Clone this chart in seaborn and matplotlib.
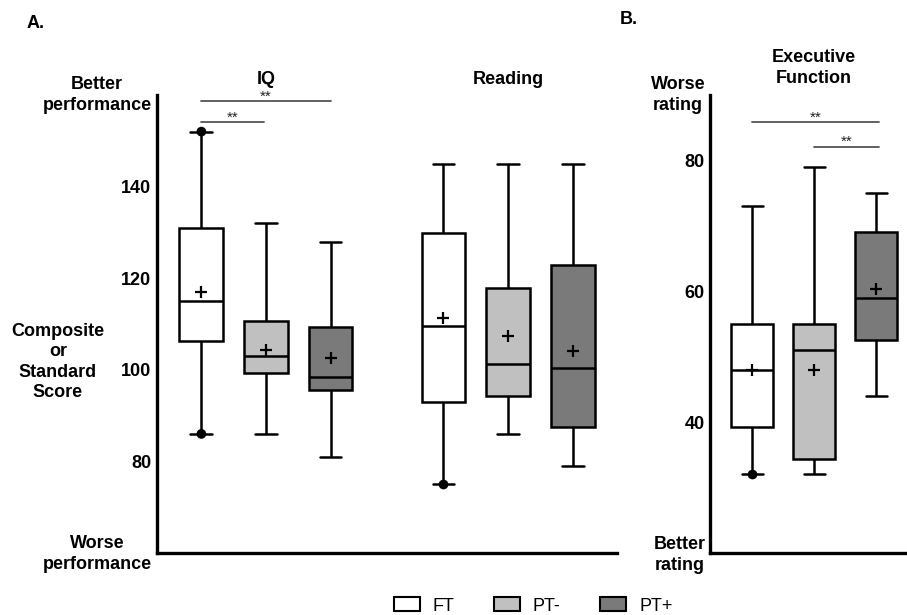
import numpy as np
import pandas as pd
import matplotlib

matplotlib.use("Agg")
import matplotlib.pyplot as plt
import seaborn as sns
from matplotlib.patches import Patch

# --- data ---
groups = ["FT", "PT-", "PT+"]
colors = ["#ffffff", "#c0c0c0", "#7a7a7a"]
tests_a = ["IQ", "Reading"]

# five-number summaries: min, q1, median, q3, max
iq_ft = [86, 106.3, 115, 131, 152]
iq_ptm = [86, 99.2, 103, 110.7, 132]
iq_ptp = [81, 95.5, 98.5, 109.4, 128]
read_ft = [75, 92.9, 109.6, 129.8, 145]
read_ptm = [86, 94.2, 101.2, 117.8, 145]
read_ptp = [79, 87.5, 100.5, 122.8, 145]
ef_ft = [32, 39.3, 48, 55, 73]
ef_ptm = [32, 34.3, 51, 55, 79]
ef_ptp = [44, 52.5, 59, 69, 75]

# group means (the "+" markers)
iq_mean = [117, 104.3, 102.6]
read_mean = [111.4, 107.4, 104.2]
ef_mean = [48, 48, 60.3]

# single points drawn at the FT whisker ends
iq_ft_dots = [152, 86]
read_ft_dots = [75]
ef_ft_dots = [32]

# --- build long tables ---
rows = []
for test, lists in zip(tests_a, [[iq_ft, iq_ptm, iq_ptp], [read_ft, read_ptm, read_ptp]]):
    for g, vals in zip(groups, lists):
        for v in vals:
            rows.append({"test": test, "group": g, "score": v})
df_a = pd.DataFrame(rows)

rows = []
for g, vals in zip(groups, [ef_ft, ef_ptm, ef_ptp]):
    for v in vals:
        rows.append({"test": "EF", "group": g, "score": v})
df_b = pd.DataFrame(rows)

mean_a = pd.DataFrame(
    {"test": np.repeat(tests_a, 3), "group": groups * 2, "score": iq_mean + read_mean}
)
mean_b = pd.DataFrame({"test": ["EF"] * 3, "group": groups, "score": ef_mean})

dots_a = pd.DataFrame(
    {
        "test": ["IQ"] * len(iq_ft_dots) + ["Reading"] * len(read_ft_dots),
        "group": ["FT"] * (len(iq_ft_dots) + len(read_ft_dots)),
        "score": iq_ft_dots + read_ft_dots,
    }
)
dots_b = pd.DataFrame({"test": ["EF"] * len(ef_ft_dots), "group": ["FT"], "score": ef_ft_dots})

# --- style ---
sns.set_style("white")
plt.rcParams["font.family"] = ["Liberation Sans", "DejaVu Sans"]
plt.rcParams["text.color"] = "black"
plt.rcParams["ytick.color"] = "black"
plt.rcParams["xtick.color"] = "black"
plt.rcParams["axes.labelcolor"] = "black"

W, H = 907, 615
fig = plt.figure(figsize=(W / 100, H / 100), dpi=100)


def px_rect(x0, y0, x1, y1):
    return [x0 / W, 1 - y1 / H, (x1 - x0) / W, (y1 - y0) / H]


ax_a = fig.add_axes(px_rect(157, 95, 617, 553))
ax_b = fig.add_axes(px_rect(710, 95, 907, 553))

pal = dict(zip(groups, colors))
box_kws = dict(
    hue="group",
    hue_order=groups,
    palette=pal,
    whis=(0, 100),
    width=0.8,
    gap=0.32,
    linecolor="black",
    linewidth=1.8,
    fliersize=0,
    legend=False,
)
mean_kws = dict(
    hue="group",
    hue_order=groups,
    palette=["black"] * 3,
    dodge=True,
    jitter=False,
    marker="+",
    size=9,
    linewidth=1.6,
    legend=False,
    zorder=5,
)
dot_kws = dict(
    hue="group",
    hue_order=groups,
    palette=["black"] * 3,
    dodge=True,
    jitter=False,
    size=7,
    legend=False,
    zorder=5,
)

sns.boxplot(data=df_a, x="test", y="score", order=tests_a, ax=ax_a, **box_kws)
sns.stripplot(data=mean_a, x="test", y="score", order=tests_a, ax=ax_a, **mean_kws)
sns.stripplot(data=dots_a, x="test", y="score", order=tests_a, ax=ax_a, **dot_kws)

sns.boxplot(data=df_b, x="test", y="score", ax=ax_b, **box_kws)
sns.stripplot(data=mean_b, x="test", y="score", ax=ax_b, **mean_kws)
sns.stripplot(data=dots_b, x="test", y="score", ax=ax_b, **dot_kws)

ax_a.set_xlim(-0.45, 1.45)
ax_a.set_ylim(60, 160)
ax_a.set_yticks([80, 100, 120, 140])
ax_b.set_xlim(-0.448, 0.399)
ax_b.set_ylim(20, 90)
ax_b.set_yticks([40, 60, 80])

for ax in (ax_a, ax_b):
    ax.set_xticks([])
    ax.set_xlabel("")
    ax.set_ylabel("")
    sns.despine(ax=ax)
    for s in ("left", "bottom"):
        ax.spines[s].set_linewidth(2.4)
        ax.spines[s].set_color("black")
    ax.tick_params(axis="y", length=0, pad=4, labelsize=13, labelcolor="black")
    for lab in ax.get_yticklabels():
        lab.set_fontweight("bold")

# significance bars
offs = (np.arange(3) - 1) * 0.8 / 3


def sig_bar(ax, x0, x1, y):
    ax.plot([x0, x1], [y, y], color="#555555", lw=1.3, clip_on=False)
    ax.annotate(
        "**",
        xy=((x0 + x1) / 2, y),
        xytext=(0, 0.5),
        textcoords="offset points",
        ha="center",
        va="baseline",
        fontsize=11,
        color="#222222",
    )


sig_bar(ax_a, offs[0], offs[1] - 0.01, 154)
sig_bar(ax_a, offs[0], offs[2], 158.6)
sig_bar(ax_b, offs[0], offs[2] + 0.01, 85.8)
sig_bar(ax_b, offs[1], offs[2] + 0.01, 82.1)


def ftext(x, y, s, **kw):
    kw.setdefault("fontweight", "bold")
    kw.setdefault("fontsize", 13)
    kw.setdefault("ha", "center")
    kw.setdefault("va", "center")
    fig.text(x / W, 1 - y / H, s, **kw)


ftext(27, 23, "A.", ha="left")
ftext(620, 20, "B.", ha="left")
ftext(266, 80, "IQ")
ftext(508, 80, "Reading")
ftext(814, 68, "Executive\nFunction", linespacing=1.25)
ftext(97, 95, "Better\nperformance", linespacing=1.3)
ftext(58, 362, "Composite\nor\nStandard\nScore", linespacing=1.25)
ftext(97, 554, "Worse\nperformance", linespacing=1.3)
ftext(678, 95, "Worse\nrating", linespacing=1.3)
ftext(680, 555, "Better\nrating", linespacing=1.3)

handles = [Patch(facecolor=c, edgecolor="black", linewidth=1.5) for c in colors]
fig.legend(
    handles,
    groups,
    ncol=3,
    loc="center",
    bbox_to_anchor=(533 / W, 1 - 606 / H),
    frameon=False,
    fontsize=13,
    handlelength=1.45,
    handleheight=0.8,
    handletextpad=0.7,
    columnspacing=2.2,
    borderaxespad=0,
    borderpad=0,
)

fig.savefig("out.png", dpi=100)
